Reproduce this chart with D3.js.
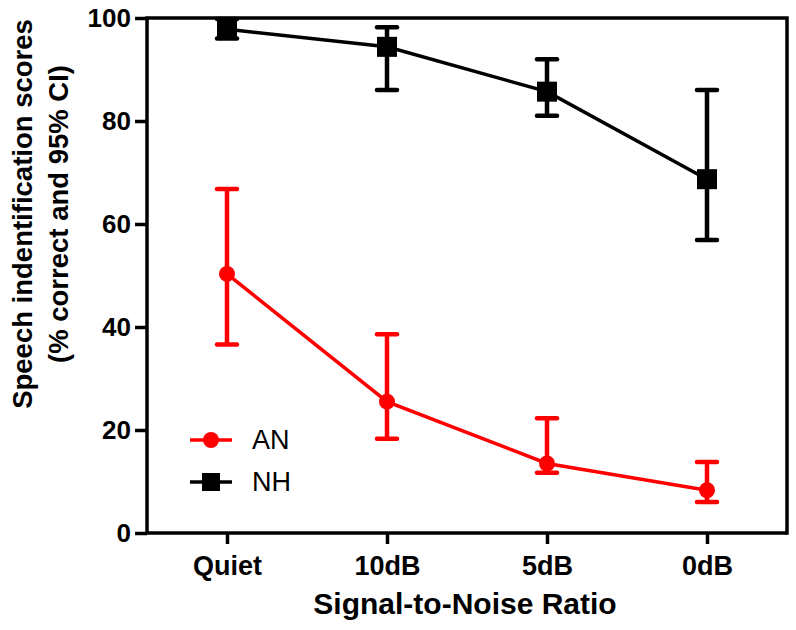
<!DOCTYPE html>
<html><head><meta charset="utf-8">
<script src="https://cdn.jsdelivr.net/npm/d3@7"></script>
<style>body{margin:0;background:#fff}svg{display:block}text{font-family:"Liberation Sans",Arial,sans-serif}</style>
</head><body><svg id="c" width="796" height="630"></svg>
<script>
const categories = ["Quiet","10dB","5dB","0dB"];
const anMean = [50.3, 25.5, 13.5, 8.3];
const anLow  = [36.6, 18.3, 11.7, 6.0];
const anHigh = [66.8, 38.6, 22.3, 13.8];
const nhMean = [97.8, 94.4, 85.7, 68.7];
const nhLow  = [96.0, 86.0, 81.0, 56.9];
const nhHigh = [99.8, 98.2, 92.0, 86.0];
const yTicks = [0, 20, 40, 60, 80, 100];
const seriesNames = ["AN", "NH"];

const svg = d3.select("#c");
const L = 147, R = 787, T = 18, B = 533;
const x = d3.scalePoint().domain(categories).range([L, R]).padding(0.5);
const y = d3.scaleLinear().domain([0, 100]).range([B, T]);

function drawSeries(mean, lo, hi, color, shape) {
  const g = svg.append("g");
  const line = d3.line().x((d, i) => x(categories[i])).y(d => y(d));
  g.append("path").datum(mean).attr("d", line).attr("fill", "none")
    .attr("stroke", color).attr("stroke-width", 3.5);
  categories.forEach((c, i) => {
    const cx = x(c);
    g.append("line").attr("x1", cx).attr("x2", cx).attr("y1", y(lo[i])).attr("y2", y(hi[i]))
      .attr("stroke", color).attr("stroke-width", 4.5);
    [lo[i], hi[i]].forEach(v => g.append("line").attr("x1", cx - 10).attr("x2", cx + 10)
      .attr("y1", y(v)).attr("y2", y(v)).attr("stroke", color).attr("stroke-width", 4.5)
      .attr("stroke-linecap", "round"));
    if (shape === "circle") g.append("circle").attr("cx", cx).attr("cy", y(mean[i])).attr("r", 8).attr("fill", color);
    else g.append("rect").attr("x", cx - 10).attr("y", y(mean[i]) - 10).attr("width", 20).attr("height", 20).attr("fill", color);
  });
}
drawSeries(nhMean, nhLow, nhHigh, "#000", "square");
drawSeries(anMean, anLow, anHigh, "#ff0000", "circle");

// axes
const ya = svg.append("g").attr("transform", `translate(${L},0)`)
  .call(d3.axisLeft(y).tickValues(yTicks).tickSize(12).tickPadding(4).tickSizeOuter(0));
const xa = svg.append("g").attr("transform", `translate(0,${B})`)
  .call(d3.axisBottom(x).tickSize(11).tickPadding(12).tickSizeOuter(0));
[ya, xa].forEach(g => {
  g.select(".domain").attr("stroke", "#000").attr("stroke-width", 3.5);
  g.selectAll(".tick line").attr("stroke", "#000").attr("stroke-width", 3.5);
  g.selectAll(".tick text").attr("fill", "#000").style("font-weight", "bold");
});
ya.selectAll(".tick text").style("font-size", "26px");
xa.selectAll(".tick text").style("font-size", "27px");
ya.select(".domain").attr("d", `M0,${T}V${B}`);
xa.select(".domain").attr("d", `M${L},0H${R}`);
// frame top/right
svg.append("path").attr("d", `M${L},${T}H${R}V${B}`).attr("fill", "none")
  .attr("stroke", "#000").attr("stroke-width", 3.5).attr("stroke-linecap", "square");

// titles
svg.append("text").attr("x", 465).attr("y", 614).attr("text-anchor", "middle")
  .style("font-size", "30px").style("font-weight", "bold").text("Signal-to-Noise Ratio");
const yt = svg.append("text").attr("transform", "translate(32,214) rotate(-90)")
  .attr("text-anchor", "middle").style("font-size", "27.5px").style("font-weight", "bold");
yt.append("tspan").attr("x", 0).attr("y", 0).text("Speech indentification scores");
yt.append("tspan").attr("x", 0).attr("y", 36).text("(% correct and 95% CI)");

// legend
const leg = [{name: seriesNames[0], color: "#ff0000", shape: "circle", yy: 440},
             {name: seriesNames[1], color: "#000", shape: "square", yy: 482}];
leg.forEach(d => {
  svg.append("line").attr("x1", 190).attr("x2", 232).attr("y1", d.yy).attr("y2", d.yy)
    .attr("stroke", d.color).attr("stroke-width", 3.5);
  if (d.shape === "circle") svg.append("circle").attr("cx", 211).attr("cy", d.yy).attr("r", 8).attr("fill", d.color);
  else svg.append("rect").attr("x", 202).attr("y", d.yy - 9).attr("width", 18).attr("height", 18).attr("fill", d.color);
  svg.append("text").attr("x", 252).attr("y", d.yy + 9).style("font-size", "27px").attr("fill", "#000").text(d.name);
});
</script></body></html>
